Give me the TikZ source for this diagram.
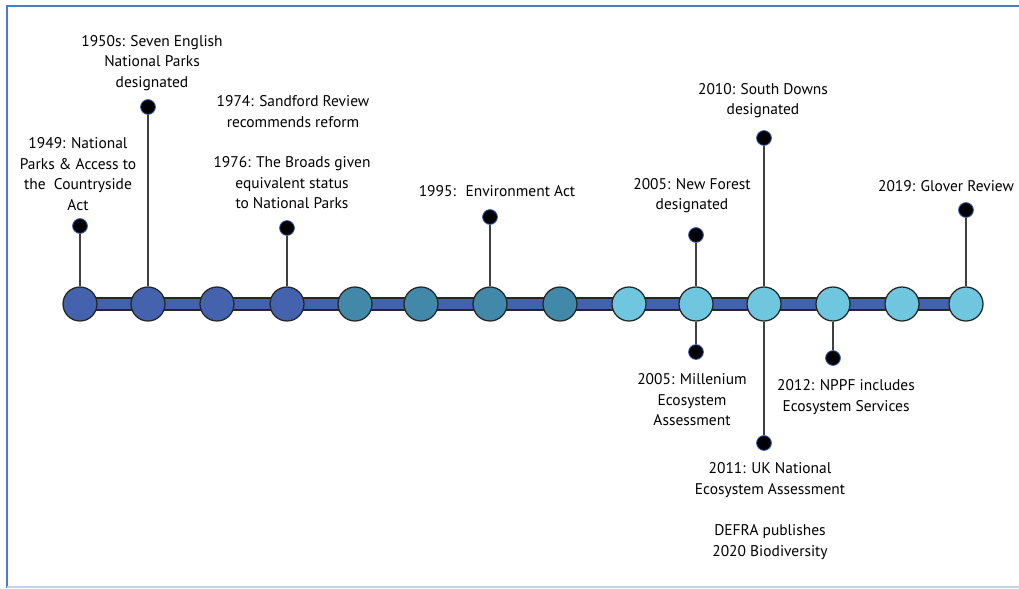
\documentclass[tikz,border=0pt]{standalone}
\usepackage{fontspec}
\setmainfont{PT Sans}
\usetikzlibrary{calc}
\definecolor{earlyblue}{HTML}{4562AE}
\definecolor{midteal}{HTML}{4288A8}
\definecolor{latecyan}{HTML}{6EC6DF}
\definecolor{barblue}{HTML}{4362AD}
\definecolor{pinrim}{HTML}{3A5BB0}
\definecolor{frameblue}{HTML}{4A7CC8}

\begin{document}
\begin{tikzpicture}[x=0.025cm, y=-0.025cm,
  station/.style={circle, draw=black!85, line width=0.9pt, minimum size=0.85cm, inner sep=0pt},
  early/.style={station, fill=earlyblue},
  mid/.style={station, fill=midteal},
  late/.style={station, fill=latecyan},
  pinhead/.style={circle, fill=black, draw=pinrim, line width=0.6pt, minimum size=0.37cm, inner sep=0pt},
  stem/.style={draw=black!75, line width=0.9pt},
  event/.style={align=center, font=\fontsize{11}{14.6}\selectfont}]
\useasboundingbox (0,0) rectangle (1019,588);
\draw[frameblue, line width=1.4pt] (1019,6) -- (7,6) -- (7,588);
\draw[frameblue!35, line width=1pt] (7,587) -- (1019,587);

% the bar
\coordinate (start) at (80,304);
\coordinate (end) at (966,304);
\draw[fill=barblue, draw=black!85, line width=0.8pt] ($(start)+(0,-6)$) rectangle ($(end)+(0,6)$);

\node[early] (c1) at (80,304) {};
\node[early] (c2) at (148,304) {};
\node[early] (c3) at (217,304) {};
\node[early] (c4) at (287,304) {};
\node[mid] (c5) at (355,304) {};
\node[mid] (c6) at (421,304) {};
\node[mid] (c7) at (490,304) {};
\node[mid] (c8) at (560,304) {};
\node[late] (c9) at (629,304) {};
\node[late] (c10) at (696,304) {};
\node[late] (c11) at (764,304) {};
\node[late] (c12) at (833,304) {};
\node[late] (c13) at (902,304) {};
\node[late] (c14) at (966,304) {};

% above the line
\node[pinhead] (p1949) at (80,226) {};
\node[pinhead] (p1950) at (148,107) {};
\node[pinhead] (p1976) at (287,228) {};
\node[pinhead] (p1995) at (490,217) {};
\node[pinhead] (p2005) at (696,235) {};
\node[pinhead] (p2010) at (764,138) {};
\node[pinhead] (p2019) at (966,210) {};
\draw[stem] (c1) -- (p1949);
\draw[stem] (c2) -- (p1950);
\draw[stem] (c4) -- (p1976);
\draw[stem] (c7) -- (p1995);
\draw[stem] (c10) -- (p2005);
\draw[stem] (c11) -- (p2010);
\draw[stem] (c14) -- (p2019);

% below the line
\node[pinhead] (pmea) at (696,352) {};
\node[pinhead] (puk) at (764,443) {};
\node[pinhead] (pnppf) at (833,358) {};
\draw[stem] (c10) -- (pmea);
\draw[stem] (c11) -- (puk);
\draw[stem] (c12) -- (pnppf);

\node[event] (t1949) at (78,174) {1949: National\\Parks \& Access to\\the~ Countryside\\Act};
\node[event] (t1950) at (152,63) {1950s: Seven English\\National Parks\\designated};
\node[event] (t1974) at (293,111.5) {1974: Sandford Review\\recommends reform};
\node[event] (t1976) at (292,183) {1976: The Broads given\\equivalent status\\to National Parks};
\node[event] (t1995) at (497,191) {1995:~ Environment Act};
\node[event] (t2005) at (692,195.5) {2005: New Forest\\designated};
\node[event] (t2010) at (763,100.5) {2010: South Downs\\designated};
\node[event] (t2019) at (946,186) {2019: Glover Review};
\node[event] (tmea) at (692,400) {2005: Millenium\\Ecosystem\\Assessment};
\node[event] (tuk) at (770,480) {2011: UK National\\Ecosystem Assessment};
\node[event] (tdefra) at (770,542) {DEFRA publishes\\2020 Biodiversity};
\node[event] (tnppf) at (846,397) {2012: NPPF includes\\Ecosystem Services};
\end{tikzpicture}
\end{document}
